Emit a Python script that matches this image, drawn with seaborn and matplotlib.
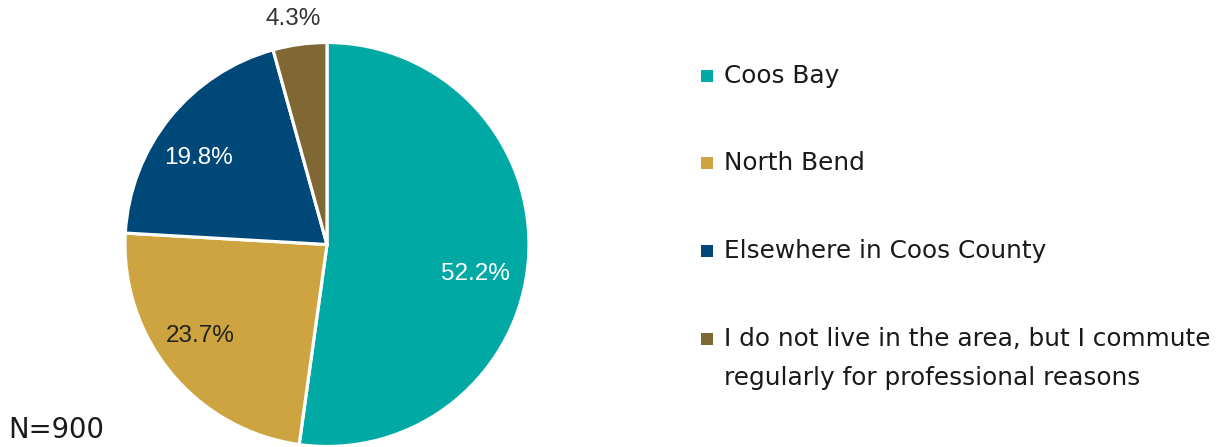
import numpy as np
import matplotlib
matplotlib.use("Agg")
import matplotlib.pyplot as plt
import seaborn as sns
from matplotlib.patches import Rectangle

categories = [
    "Coos Bay",
    "North Bend",
    "Elsewhere in Coos County",
    "I do not live in the area, but I commute\nregularly for professional reasons",
]
shares = [52.2, 23.7, 19.8, 4.3]
colors = sns.color_palette(["#00A9A4", "#CDA440", "#004878", "#7F6834"])
label_colors = ["white", "#222222", "white", "#333333"]
sample_note = "N=900"

# percentage label anchors in pie-axes units (radius = 1)
label_xy = [(0.733, -0.146), (-0.626, -0.455), (-0.634, 0.428), (-0.168, 1.116)]

sns.set_theme(style="white")
plt.rcParams["font.family"] = ["Liberation Sans", "DejaVu Sans"]

W, H = 1219, 447
fig = plt.figure(figsize=(W / 100, H / 100), dpi=100)
fig.patch.set_facecolor("white")

# pie axes: centre (327, 244.5) px, radius 202 px
cx, cy, r = 327, 244.5, 202
ax = fig.add_axes([(cx - r) / W, (H - cy - r) / H, 2 * r / W, 2 * r / H])
wedges, texts, autotexts = ax.pie(
    shares,
    colors=colors,
    startangle=90,
    counterclock=False,
    autopct=lambda p: f"{p:.1f}%",
    pctdistance=0.76,
    wedgeprops=dict(edgecolor="white", linewidth=2.3),
    textprops=dict(fontsize=17.5),
)
ax.set_xlim(-1, 1)
ax.set_ylim(-1, 1)
ax.set_aspect("equal")
ax.axis("off")

for t, c, xy in zip(autotexts, label_colors, label_xy):
    t.set_color(c)
    t.set_position(xy)

# legend drawn as swatches + text
legend_font = ["DejaVu Sans"]
rows_y = [76, 163, 251, 339]
line_step = 39
for col, lab, yy in zip(colors, categories, rows_y):
    fig.patches.append(Rectangle((701 / W, (H - yy - 6) / H), 12 / W, 12 / H,
                                 transform=fig.transFigure, facecolor=col,
                                 edgecolor="none"))
    for i, line in enumerate(lab.split("\n")):
        fig.text(724 / W, (H - yy - i * line_step) / H, line, fontsize=17.8,
                 family=legend_font, color="#1a1a1a", va="center")

fig.text(8 / W, (H - 430) / H, sample_note, fontsize=19.8, family=["DejaVu Sans"],
         color="#1a1a1a", va="center", ha="left")

fig.savefig("out.png", dpi=100, facecolor="white")
